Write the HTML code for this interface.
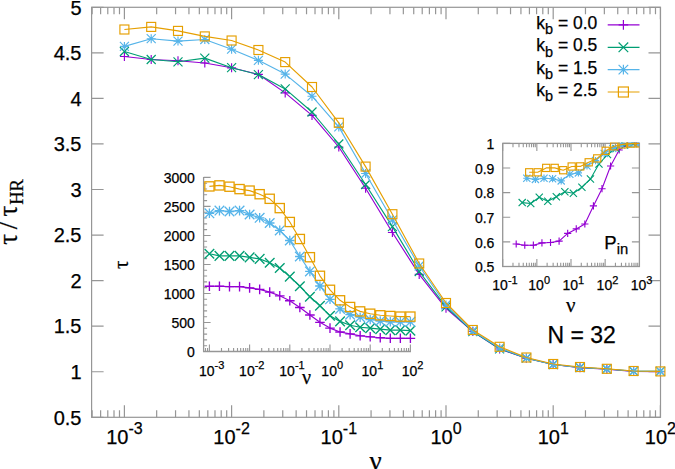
<!DOCTYPE html>
<html><head><meta charset="utf-8"><style>
html,body{margin:0;padding:0;background:#fff;overflow:hidden}
text{stroke:#000;stroke-width:0.25px}
svg{display:block}

</style></head><body>
<svg width="675" height="469" viewBox="0 0 675 469">
<rect width="675" height="469" fill="#fff"/>
<path d="M92.13 417.3v-7M92.13 7.3v7M100.62 417.3v-7M100.62 7.3v7M107.79 417.3v-7M107.79 7.3v7M114.01 417.3v-7M114.01 7.3v7M119.49 417.3v-7M119.49 7.3v7M124.4 417.3v-12M124.4 7.3v12M156.67 417.3v-7M156.67 7.3v7M175.55 417.3v-7M175.55 7.3v7M188.94 417.3v-7M188.94 7.3v7M199.33 417.3v-7M199.33 7.3v7M207.82 417.3v-7M207.82 7.3v7M214.99 417.3v-7M214.99 7.3v7M221.21 417.3v-7M221.21 7.3v7M226.69 417.3v-7M226.69 7.3v7M231.6 417.3v-12M231.6 7.3v12M263.87 417.3v-7M263.87 7.3v7M282.75 417.3v-7M282.75 7.3v7M296.14 417.3v-7M296.14 7.3v7M306.53 417.3v-7M306.53 7.3v7M315.02 417.3v-7M315.02 7.3v7M322.19 417.3v-7M322.19 7.3v7M328.41 417.3v-7M328.41 7.3v7M333.89 417.3v-7M333.89 7.3v7M338.8 417.3v-12M338.8 7.3v12M371.07 417.3v-7M371.07 7.3v7M389.95 417.3v-7M389.95 7.3v7M403.34 417.3v-7M403.34 7.3v7M413.73 417.3v-7M413.73 7.3v7M422.22 417.3v-7M422.22 7.3v7M429.39 417.3v-7M429.39 7.3v7M435.61 417.3v-7M435.61 7.3v7M441.09 417.3v-7M441.09 7.3v7M446 417.3v-12M446 7.3v12M478.27 417.3v-7M478.27 7.3v7M497.15 417.3v-7M497.15 7.3v7M510.54 417.3v-7M510.54 7.3v7M520.93 417.3v-7M520.93 7.3v7M529.42 417.3v-7M529.42 7.3v7M536.59 417.3v-7M536.59 7.3v7M542.81 417.3v-7M542.81 7.3v7M548.29 417.3v-7M548.29 7.3v7M553.2 417.3v-12M553.2 7.3v12M585.47 417.3v-7M585.47 7.3v7M604.35 417.3v-7M604.35 7.3v7M617.74 417.3v-7M617.74 7.3v7M628.13 417.3v-7M628.13 7.3v7M636.62 417.3v-7M636.62 7.3v7M643.79 417.3v-7M643.79 7.3v7M650.01 417.3v-7M650.01 7.3v7M655.49 417.3v-7M655.49 7.3v7M660.4 417.3v-12M660.4 7.3v12M91.6 417.3h12M660.5 417.3h-12M91.6 371.74h12M660.5 371.74h-12M91.6 326.19h12M660.5 326.19h-12M91.6 280.63h12M660.5 280.63h-12M91.6 235.08h12M660.5 235.08h-12M91.6 189.52h12M660.5 189.52h-12M91.6 143.97h12M660.5 143.97h-12M91.6 98.41h12M660.5 98.41h-12M91.6 52.86h12M660.5 52.86h-12M91.6 7.3h12M660.5 7.3h-12" stroke="#969696" stroke-width="1.2" fill="none"/>
<rect x="91.6" y="7.3" width="568.9" height="410" stroke="#969696" stroke-width="1.2" fill="none"/>
<g style="font-family:Liberation Sans,sans-serif" font-size="20" fill="#000" text-anchor="end">
<text x="81.5" y="424.5">0.5</text>
<text x="81.5" y="378.94">1</text>
<text x="81.5" y="333.39">1.5</text>
<text x="81.5" y="287.83">2</text>
<text x="81.5" y="242.28">2.5</text>
<text x="81.5" y="196.72">3</text>
<text x="81.5" y="151.17">3.5</text>
<text x="81.5" y="105.61">4</text>
<text x="81.5" y="60.06">4.5</text>
<text x="81.5" y="14.5">5</text>
</g>
<g style="font-family:Liberation Sans,sans-serif" font-size="20" fill="#000">
<text x="106.17" y="443.6">10<tspan font-size="16" dy="-9.6">-3</tspan></text>
<text x="213.37" y="443.6">10<tspan font-size="16" dy="-9.6">-2</tspan></text>
<text x="320.56" y="443.6">10<tspan font-size="16" dy="-9.6">-1</tspan></text>
<text x="430.43" y="443.6">10<tspan font-size="16" dy="-9.6">0</tspan></text>
<text x="537.63" y="443.6">10<tspan font-size="16" dy="-9.6">1</tspan></text>
<text x="644.83" y="443.6">10<tspan font-size="16" dy="-9.6">2</tspan></text>
</g>
<text x="375.5" y="469.7" style="font-family:Liberation Serif,serif" font-size="27" text-anchor="middle">ν</text>
<g transform="translate(16.5,0) rotate(-90)" style="font-family:Liberation Serif,serif" font-size="27"><text x="-244.8">τ</text><text x="-229.2">/</text><text x="-216.6">τ</text><text x="-204.8" y="6.5" font-size="18.5">HR</text></g>
<path d="M205.5 351.5v-3.5M207.56 351.5v-3.5M209.4 351.5v-7M221.5 351.5v-3.5M228.58 351.5v-3.5M233.6 351.5v-3.5M237.5 351.5v-3.5M240.68 351.5v-3.5M243.37 351.5v-3.5M245.7 351.5v-3.5M247.76 351.5v-3.5M249.6 351.5v-7M261.7 351.5v-3.5M268.78 351.5v-3.5M273.8 351.5v-3.5M277.7 351.5v-3.5M280.88 351.5v-3.5M283.57 351.5v-3.5M285.9 351.5v-3.5M287.96 351.5v-3.5M289.8 351.5v-7M301.9 351.5v-3.5M308.98 351.5v-3.5M314 351.5v-3.5M317.9 351.5v-3.5M321.08 351.5v-3.5M323.77 351.5v-3.5M326.1 351.5v-3.5M328.16 351.5v-3.5M330 351.5v-7M342.1 351.5v-3.5M349.18 351.5v-3.5M354.2 351.5v-3.5M358.1 351.5v-3.5M361.28 351.5v-3.5M363.97 351.5v-3.5M366.3 351.5v-3.5M368.36 351.5v-3.5M370.2 351.5v-7M382.3 351.5v-3.5M389.38 351.5v-3.5M394.4 351.5v-3.5M398.3 351.5v-3.5M401.48 351.5v-3.5M404.17 351.5v-3.5M406.5 351.5v-3.5M408.56 351.5v-3.5M410.4 351.5v-7M203.6 351.5h7M203.6 345.7h3.5M203.6 339.89h3.5M203.6 334.09h3.5M203.6 328.29h3.5M203.6 322.48h7M203.6 316.68h3.5M203.6 310.88h3.5M203.6 305.07h3.5M203.6 299.27h3.5M203.6 293.47h7M203.6 287.66h3.5M203.6 281.86h3.5M203.6 276.06h3.5M203.6 270.25h3.5M203.6 264.45h7M203.6 258.65h3.5M203.6 252.84h3.5M203.6 247.04h3.5M203.6 241.24h3.5M203.6 235.43h7M203.6 229.63h3.5M203.6 223.83h3.5M203.6 218.02h3.5M203.6 212.22h3.5M203.6 206.42h7M203.6 200.61h3.5M203.6 194.81h3.5M203.6 189.01h3.5M203.6 183.2h3.5M203.6 177.4h7" stroke="#969696" stroke-width="1.1" fill="none"/>
<path d="M203.6 176.9V351.5H411" stroke="#969696" stroke-width="1.3" fill="none"/>
<g style="font-family:Liberation Sans,sans-serif" font-size="14" fill="#000" text-anchor="end">
<text x="194.8" y="357">0</text>
<text x="194.8" y="327.98">500</text>
<text x="194.8" y="298.97">1000</text>
<text x="194.8" y="269.95">1500</text>
<text x="194.8" y="240.93">2000</text>
<text x="194.8" y="211.92">2500</text>
<text x="194.8" y="182.9">3000</text>
</g>
<g style="font-family:Liberation Sans,sans-serif" font-size="14" fill="#000">
<text x="198.92" y="375.9">10<tspan font-size="11" dy="-6.6">-3</tspan></text>
<text x="239.12" y="375.9">10<tspan font-size="11" dy="-6.6">-2</tspan></text>
<text x="279.32" y="375.9">10<tspan font-size="11" dy="-6.6">-1</tspan></text>
<text x="321.35" y="375.9">10<tspan font-size="11" dy="-6.6">0</tspan></text>
<text x="361.56" y="375.9">10<tspan font-size="11" dy="-6.6">1</tspan></text>
<text x="401.75" y="375.9">10<tspan font-size="11" dy="-6.6">2</tspan></text>
</g>
<text x="306.5" y="384.2" style="font-family:Liberation Serif,serif" font-size="20" text-anchor="middle">ν</text>
<text transform="translate(128.2,264.8) rotate(-90)" style="font-family:Liberation Serif,serif" font-size="21" text-anchor="middle">τ</text>
<path d="M209.4 286.2 L219.45 286.2 L229.5 286.6 L239.55 286.6 L249.6 287.9 L259.65 289.4 L269.7 292.1 L279.75 295.8 L289.8 300.7 L299.85 307.5 L309.9 315 L319.95 322.3 L330 328.1 L340.05 332 L350.1 333.9 L360.15 335.8 L370.2 336.8 L380.25 337.7 L390.3 338.3 L400.35 338.3 L410.4 338.3" stroke="#9400d3" stroke-width="1.15" fill="none" stroke-linejoin="round"/>
<path d="M204.6 286.2H214.2M209.4 281.4V291" stroke="#9400d3" stroke-width="1.35" fill="none"/>
<path d="M214.65 286.2H224.25M219.45 281.4V291" stroke="#9400d3" stroke-width="1.35" fill="none"/>
<path d="M224.7 286.6H234.3M229.5 281.8V291.4" stroke="#9400d3" stroke-width="1.35" fill="none"/>
<path d="M234.75 286.6H244.35M239.55 281.8V291.4" stroke="#9400d3" stroke-width="1.35" fill="none"/>
<path d="M244.8 287.9H254.4M249.6 283.1V292.7" stroke="#9400d3" stroke-width="1.35" fill="none"/>
<path d="M254.85 289.4H264.45M259.65 284.6V294.2" stroke="#9400d3" stroke-width="1.35" fill="none"/>
<path d="M264.9 292.1H274.5M269.7 287.3V296.9" stroke="#9400d3" stroke-width="1.35" fill="none"/>
<path d="M274.95 295.8H284.55M279.75 291V300.6" stroke="#9400d3" stroke-width="1.35" fill="none"/>
<path d="M285 300.7H294.6M289.8 295.9V305.5" stroke="#9400d3" stroke-width="1.35" fill="none"/>
<path d="M295.05 307.5H304.65M299.85 302.7V312.3" stroke="#9400d3" stroke-width="1.35" fill="none"/>
<path d="M305.1 315H314.7M309.9 310.2V319.8" stroke="#9400d3" stroke-width="1.35" fill="none"/>
<path d="M315.15 322.3H324.75M319.95 317.5V327.1" stroke="#9400d3" stroke-width="1.35" fill="none"/>
<path d="M325.2 328.1H334.8M330 323.3V332.9" stroke="#9400d3" stroke-width="1.35" fill="none"/>
<path d="M335.25 332H344.85M340.05 327.2V336.8" stroke="#9400d3" stroke-width="1.35" fill="none"/>
<path d="M345.3 333.9H354.9M350.1 329.1V338.7" stroke="#9400d3" stroke-width="1.35" fill="none"/>
<path d="M355.35 335.8H364.95M360.15 331V340.6" stroke="#9400d3" stroke-width="1.35" fill="none"/>
<path d="M365.4 336.8H375M370.2 332V341.6" stroke="#9400d3" stroke-width="1.35" fill="none"/>
<path d="M375.45 337.7H385.05M380.25 332.9V342.5" stroke="#9400d3" stroke-width="1.35" fill="none"/>
<path d="M385.5 338.3H395.1M390.3 333.5V343.1" stroke="#9400d3" stroke-width="1.35" fill="none"/>
<path d="M395.55 338.3H405.15M400.35 333.5V343.1" stroke="#9400d3" stroke-width="1.35" fill="none"/>
<path d="M405.6 338.3H415.2M410.4 333.5V343.1" stroke="#9400d3" stroke-width="1.35" fill="none"/>
<path d="M209.4 253.8 L219.45 255.9 L229.5 255.9 L239.55 255.9 L249.6 257.4 L259.65 258.9 L269.7 262.7 L279.75 268 L289.8 276.6 L299.85 286.2 L309.9 296.8 L319.95 305.8 L330 315.7 L340.05 321.4 L350.1 325.3 L360.15 327.2 L370.2 328.1 L380.25 329.1 L390.3 330.1 L400.35 330.1 L410.4 330.6" stroke="#009e73" stroke-width="1.15" fill="none" stroke-linejoin="round"/>
<path d="M204.6 249L214.2 258.6M204.6 258.6L214.2 249" stroke="#009e73" stroke-width="1.35" fill="none"/>
<path d="M214.65 251.1L224.25 260.7M214.65 260.7L224.25 251.1" stroke="#009e73" stroke-width="1.35" fill="none"/>
<path d="M224.7 251.1L234.3 260.7M224.7 260.7L234.3 251.1" stroke="#009e73" stroke-width="1.35" fill="none"/>
<path d="M234.75 251.1L244.35 260.7M234.75 260.7L244.35 251.1" stroke="#009e73" stroke-width="1.35" fill="none"/>
<path d="M244.8 252.6L254.4 262.2M244.8 262.2L254.4 252.6" stroke="#009e73" stroke-width="1.35" fill="none"/>
<path d="M254.85 254.1L264.45 263.7M254.85 263.7L264.45 254.1" stroke="#009e73" stroke-width="1.35" fill="none"/>
<path d="M264.9 257.9L274.5 267.5M264.9 267.5L274.5 257.9" stroke="#009e73" stroke-width="1.35" fill="none"/>
<path d="M274.95 263.2L284.55 272.8M274.95 272.8L284.55 263.2" stroke="#009e73" stroke-width="1.35" fill="none"/>
<path d="M285 271.8L294.6 281.4M285 281.4L294.6 271.8" stroke="#009e73" stroke-width="1.35" fill="none"/>
<path d="M295.05 281.4L304.65 291M295.05 291L304.65 281.4" stroke="#009e73" stroke-width="1.35" fill="none"/>
<path d="M305.1 292L314.7 301.6M305.1 301.6L314.7 292" stroke="#009e73" stroke-width="1.35" fill="none"/>
<path d="M315.15 301L324.75 310.6M315.15 310.6L324.75 301" stroke="#009e73" stroke-width="1.35" fill="none"/>
<path d="M325.2 310.9L334.8 320.5M325.2 320.5L334.8 310.9" stroke="#009e73" stroke-width="1.35" fill="none"/>
<path d="M335.25 316.6L344.85 326.2M335.25 326.2L344.85 316.6" stroke="#009e73" stroke-width="1.35" fill="none"/>
<path d="M345.3 320.5L354.9 330.1M345.3 330.1L354.9 320.5" stroke="#009e73" stroke-width="1.35" fill="none"/>
<path d="M355.35 322.4L364.95 332M355.35 332L364.95 322.4" stroke="#009e73" stroke-width="1.35" fill="none"/>
<path d="M365.4 323.3L375 332.9M365.4 332.9L375 323.3" stroke="#009e73" stroke-width="1.35" fill="none"/>
<path d="M375.45 324.3L385.05 333.9M375.45 333.9L385.05 324.3" stroke="#009e73" stroke-width="1.35" fill="none"/>
<path d="M385.5 325.3L395.1 334.9M385.5 334.9L395.1 325.3" stroke="#009e73" stroke-width="1.35" fill="none"/>
<path d="M395.55 325.3L405.15 334.9M395.55 334.9L405.15 325.3" stroke="#009e73" stroke-width="1.35" fill="none"/>
<path d="M405.6 325.8L415.2 335.4M405.6 335.4L415.2 325.8" stroke="#009e73" stroke-width="1.35" fill="none"/>
<path d="M209.4 213.3 L219.45 210.6 L229.5 211.5 L239.55 210.6 L249.6 214.5 L259.65 217.8 L269.7 223 L279.75 230.4 L289.8 240.5 L299.85 256.5 L309.9 271.4 L319.95 286 L330 299.3 L340.05 308.9 L350.1 314.7 L360.15 317.2 L370.2 319.5 L380.25 321 L390.3 321.8 L400.35 321.8 L410.4 321.8" stroke="#56b4e9" stroke-width="1.15" fill="none" stroke-linejoin="round"/>
<path d="M204.6 213.3H214.2M209.4 208.5V218.1M204.6 208.5L214.2 218.1M204.6 218.1L214.2 208.5" stroke="#56b4e9" stroke-width="1.3" fill="none"/>
<path d="M214.65 210.6H224.25M219.45 205.8V215.4M214.65 205.8L224.25 215.4M214.65 215.4L224.25 205.8" stroke="#56b4e9" stroke-width="1.3" fill="none"/>
<path d="M224.7 211.5H234.3M229.5 206.7V216.3M224.7 206.7L234.3 216.3M224.7 216.3L234.3 206.7" stroke="#56b4e9" stroke-width="1.3" fill="none"/>
<path d="M234.75 210.6H244.35M239.55 205.8V215.4M234.75 205.8L244.35 215.4M234.75 215.4L244.35 205.8" stroke="#56b4e9" stroke-width="1.3" fill="none"/>
<path d="M244.8 214.5H254.4M249.6 209.7V219.3M244.8 209.7L254.4 219.3M244.8 219.3L254.4 209.7" stroke="#56b4e9" stroke-width="1.3" fill="none"/>
<path d="M254.85 217.8H264.45M259.65 213V222.6M254.85 213L264.45 222.6M254.85 222.6L264.45 213" stroke="#56b4e9" stroke-width="1.3" fill="none"/>
<path d="M264.9 223H274.5M269.7 218.2V227.8M264.9 218.2L274.5 227.8M264.9 227.8L274.5 218.2" stroke="#56b4e9" stroke-width="1.3" fill="none"/>
<path d="M274.95 230.4H284.55M279.75 225.6V235.2M274.95 225.6L284.55 235.2M274.95 235.2L284.55 225.6" stroke="#56b4e9" stroke-width="1.3" fill="none"/>
<path d="M285 240.5H294.6M289.8 235.7V245.3M285 235.7L294.6 245.3M285 245.3L294.6 235.7" stroke="#56b4e9" stroke-width="1.3" fill="none"/>
<path d="M295.05 256.5H304.65M299.85 251.7V261.3M295.05 251.7L304.65 261.3M295.05 261.3L304.65 251.7" stroke="#56b4e9" stroke-width="1.3" fill="none"/>
<path d="M305.1 271.4H314.7M309.9 266.6V276.2M305.1 266.6L314.7 276.2M305.1 276.2L314.7 266.6" stroke="#56b4e9" stroke-width="1.3" fill="none"/>
<path d="M315.15 286H324.75M319.95 281.2V290.8M315.15 281.2L324.75 290.8M315.15 290.8L324.75 281.2" stroke="#56b4e9" stroke-width="1.3" fill="none"/>
<path d="M325.2 299.3H334.8M330 294.5V304.1M325.2 294.5L334.8 304.1M325.2 304.1L334.8 294.5" stroke="#56b4e9" stroke-width="1.3" fill="none"/>
<path d="M335.25 308.9H344.85M340.05 304.1V313.7M335.25 304.1L344.85 313.7M335.25 313.7L344.85 304.1" stroke="#56b4e9" stroke-width="1.3" fill="none"/>
<path d="M345.3 314.7H354.9M350.1 309.9V319.5M345.3 309.9L354.9 319.5M345.3 319.5L354.9 309.9" stroke="#56b4e9" stroke-width="1.3" fill="none"/>
<path d="M355.35 317.2H364.95M360.15 312.4V322M355.35 312.4L364.95 322M355.35 322L364.95 312.4" stroke="#56b4e9" stroke-width="1.3" fill="none"/>
<path d="M365.4 319.5H375M370.2 314.7V324.3M365.4 314.7L375 324.3M365.4 324.3L375 314.7" stroke="#56b4e9" stroke-width="1.3" fill="none"/>
<path d="M375.45 321H385.05M380.25 316.2V325.8M375.45 316.2L385.05 325.8M375.45 325.8L385.05 316.2" stroke="#56b4e9" stroke-width="1.3" fill="none"/>
<path d="M385.5 321.8H395.1M390.3 317V326.6M385.5 317L395.1 326.6M385.5 326.6L395.1 317" stroke="#56b4e9" stroke-width="1.3" fill="none"/>
<path d="M395.55 321.8H405.15M400.35 317V326.6M395.55 317L405.15 326.6M395.55 326.6L405.15 317" stroke="#56b4e9" stroke-width="1.3" fill="none"/>
<path d="M405.6 321.8H415.2M410.4 317V326.6M405.6 317L415.2 326.6M405.6 326.6L415.2 317" stroke="#56b4e9" stroke-width="1.3" fill="none"/>
<path d="M209.4 186.4 L219.45 185.4 L229.5 186.7 L239.55 189.1 L249.6 190.6 L259.65 194.2 L269.7 198.8 L279.75 208.1 L289.8 222 L299.85 239 L309.9 257.2 L319.95 275.8 L330 289.8 L340.05 300.3 L350.1 307 L360.15 311.4 L370.2 313.7 L380.25 315.3 L390.3 316 L400.35 316.6 L410.4 316.6" stroke="#e69f00" stroke-width="1.15" fill="none" stroke-linejoin="round"/>
<rect x="204.8" y="181.8" width="9.2" height="9.2" stroke="#e69f00" stroke-width="1.3" fill="none"/>
<rect x="214.85" y="180.8" width="9.2" height="9.2" stroke="#e69f00" stroke-width="1.3" fill="none"/>
<rect x="224.9" y="182.1" width="9.2" height="9.2" stroke="#e69f00" stroke-width="1.3" fill="none"/>
<rect x="234.95" y="184.5" width="9.2" height="9.2" stroke="#e69f00" stroke-width="1.3" fill="none"/>
<rect x="245" y="186" width="9.2" height="9.2" stroke="#e69f00" stroke-width="1.3" fill="none"/>
<rect x="255.05" y="189.6" width="9.2" height="9.2" stroke="#e69f00" stroke-width="1.3" fill="none"/>
<rect x="265.1" y="194.2" width="9.2" height="9.2" stroke="#e69f00" stroke-width="1.3" fill="none"/>
<rect x="275.15" y="203.5" width="9.2" height="9.2" stroke="#e69f00" stroke-width="1.3" fill="none"/>
<rect x="285.2" y="217.4" width="9.2" height="9.2" stroke="#e69f00" stroke-width="1.3" fill="none"/>
<rect x="295.25" y="234.4" width="9.2" height="9.2" stroke="#e69f00" stroke-width="1.3" fill="none"/>
<rect x="305.3" y="252.6" width="9.2" height="9.2" stroke="#e69f00" stroke-width="1.3" fill="none"/>
<rect x="315.35" y="271.2" width="9.2" height="9.2" stroke="#e69f00" stroke-width="1.3" fill="none"/>
<rect x="325.4" y="285.2" width="9.2" height="9.2" stroke="#e69f00" stroke-width="1.3" fill="none"/>
<rect x="335.45" y="295.7" width="9.2" height="9.2" stroke="#e69f00" stroke-width="1.3" fill="none"/>
<rect x="345.5" y="302.4" width="9.2" height="9.2" stroke="#e69f00" stroke-width="1.3" fill="none"/>
<rect x="355.55" y="306.8" width="9.2" height="9.2" stroke="#e69f00" stroke-width="1.3" fill="none"/>
<rect x="365.6" y="309.1" width="9.2" height="9.2" stroke="#e69f00" stroke-width="1.3" fill="none"/>
<rect x="375.65" y="310.7" width="9.2" height="9.2" stroke="#e69f00" stroke-width="1.3" fill="none"/>
<rect x="385.7" y="311.4" width="9.2" height="9.2" stroke="#e69f00" stroke-width="1.3" fill="none"/>
<rect x="395.75" y="312" width="9.2" height="9.2" stroke="#e69f00" stroke-width="1.3" fill="none"/>
<rect x="405.8" y="312" width="9.2" height="9.2" stroke="#e69f00" stroke-width="1.3" fill="none"/>
<rect x="502.7" y="143.4" width="136.7" height="123.1" fill="#fff" stroke="none"/>
<path d="M502.7 266.5v-7.5M502.7 143.4v7.5M512.98 266.5v-3.8M512.98 143.4v3.8M518.99 266.5v-3.8M518.99 143.4v3.8M523.26 266.5v-3.8M523.26 143.4v3.8M526.57 266.5v-3.8M526.57 143.4v3.8M529.27 266.5v-3.8M529.27 143.4v3.8M531.56 266.5v-3.8M531.56 143.4v3.8M533.54 266.5v-3.8M533.54 143.4v3.8M535.29 266.5v-3.8M535.29 143.4v3.8M536.85 266.5v-7.5M536.85 143.4v7.5M547.13 266.5v-3.8M547.13 143.4v3.8M553.14 266.5v-3.8M553.14 143.4v3.8M557.41 266.5v-3.8M557.41 143.4v3.8M560.72 266.5v-3.8M560.72 143.4v3.8M563.42 266.5v-3.8M563.42 143.4v3.8M565.71 266.5v-3.8M565.71 143.4v3.8M567.69 266.5v-3.8M567.69 143.4v3.8M569.44 266.5v-3.8M569.44 143.4v3.8M571 266.5v-7.5M571 143.4v7.5M581.28 266.5v-3.8M581.28 143.4v3.8M587.29 266.5v-3.8M587.29 143.4v3.8M591.56 266.5v-3.8M591.56 143.4v3.8M594.87 266.5v-3.8M594.87 143.4v3.8M597.57 266.5v-3.8M597.57 143.4v3.8M599.86 266.5v-3.8M599.86 143.4v3.8M601.84 266.5v-3.8M601.84 143.4v3.8M603.59 266.5v-3.8M603.59 143.4v3.8M605.15 266.5v-7.5M605.15 143.4v7.5M615.43 266.5v-3.8M615.43 143.4v3.8M621.44 266.5v-3.8M621.44 143.4v3.8M625.71 266.5v-3.8M625.71 143.4v3.8M629.02 266.5v-3.8M629.02 143.4v3.8M631.72 266.5v-3.8M631.72 143.4v3.8M634.01 266.5v-3.8M634.01 143.4v3.8M635.99 266.5v-3.8M635.99 143.4v3.8M637.74 266.5v-3.8M637.74 143.4v3.8M502.7 266.5h7.5M639.4 266.5h-7.5M502.7 241.88h7.5M639.4 241.88h-7.5M502.7 217.26h7.5M639.4 217.26h-7.5M502.7 192.64h7.5M639.4 192.64h-7.5M502.7 168.02h7.5M639.4 168.02h-7.5M502.7 143.4h7.5M639.4 143.4h-7.5" stroke="#969696" stroke-width="1.1" fill="none"/>
<rect x="502.7" y="143.4" width="136.7" height="123.1" stroke="#969696" stroke-width="1.3" fill="none"/>
<g style="font-family:Liberation Sans,sans-serif" font-size="14" fill="#000" text-anchor="end">
<text x="494.4" y="272.2">0.5</text>
<text x="494.4" y="247.58">0.6</text>
<text x="494.4" y="222.96">0.7</text>
<text x="494.4" y="198.34">0.8</text>
<text x="494.4" y="173.72">0.9</text>
<text x="494.4" y="149.1">1</text>
</g>
<g style="font-family:Liberation Sans,sans-serif" font-size="14" fill="#000">
<text x="492.32" y="290.3">10<tspan font-size="11" dy="-6.6">-1</tspan></text>
<text x="528.3" y="290.3">10<tspan font-size="11" dy="-6.6">0</tspan></text>
<text x="562.45" y="290.3">10<tspan font-size="11" dy="-6.6">1</tspan></text>
<text x="596.6" y="290.3">10<tspan font-size="11" dy="-6.6">2</tspan></text>
<text x="630.75" y="290.3">10<tspan font-size="11" dy="-6.6">3</tspan></text>
</g>
<text x="570.7" y="311.8" style="font-family:Liberation Serif,serif" font-size="21" text-anchor="middle">ν</text>
<text x="604.3" y="248.5" style="font-family:Liberation Sans,sans-serif" font-size="18.5">P<tspan font-size="14.8" dy="5.8">in</tspan></text>
<svg x="0" y="0" width="675" height="469" overflow="hidden"><defs><clipPath id="rc"><rect x="502" y="142.4" width="137.4" height="125"/></clipPath></defs><g clip-path="url(#rc)">
<path d="M516.2 244 L524.78 245.2 L533.36 245.2 L541.94 242.9 L550.52 242.5 L559.1 241.1 L567.68 233.4 L576.26 228.9 L584.84 224 L593.42 205.9 L602 188.7 L610.58 166 L619.16 150 L627.74 144.2 L636.32 143.4" stroke="#9400d3" stroke-width="1.1" fill="none" stroke-linejoin="round"/>
<path d="M512.6 244H519.8M516.2 240.4V247.6" stroke="#9400d3" stroke-width="1.15" fill="none"/>
<path d="M521.18 245.2H528.38M524.78 241.6V248.8" stroke="#9400d3" stroke-width="1.15" fill="none"/>
<path d="M529.76 245.2H536.96M533.36 241.6V248.8" stroke="#9400d3" stroke-width="1.15" fill="none"/>
<path d="M538.34 242.9H545.54M541.94 239.3V246.5" stroke="#9400d3" stroke-width="1.15" fill="none"/>
<path d="M546.92 242.5H554.12M550.52 238.9V246.1" stroke="#9400d3" stroke-width="1.15" fill="none"/>
<path d="M555.5 241.1H562.7M559.1 237.5V244.7" stroke="#9400d3" stroke-width="1.15" fill="none"/>
<path d="M564.08 233.4H571.28M567.68 229.8V237" stroke="#9400d3" stroke-width="1.15" fill="none"/>
<path d="M572.66 228.9H579.86M576.26 225.3V232.5" stroke="#9400d3" stroke-width="1.15" fill="none"/>
<path d="M581.24 224H588.44M584.84 220.4V227.6" stroke="#9400d3" stroke-width="1.15" fill="none"/>
<path d="M589.82 205.9H597.02M593.42 202.3V209.5" stroke="#9400d3" stroke-width="1.15" fill="none"/>
<path d="M598.4 188.7H605.6M602 185.1V192.3" stroke="#9400d3" stroke-width="1.15" fill="none"/>
<path d="M606.98 166H614.18M610.58 162.4V169.6" stroke="#9400d3" stroke-width="1.15" fill="none"/>
<path d="M615.56 150H622.76M619.16 146.4V153.6" stroke="#9400d3" stroke-width="1.15" fill="none"/>
<path d="M624.14 144.2H631.34M627.74 140.6V147.8" stroke="#9400d3" stroke-width="1.15" fill="none"/>
<path d="M632.72 143.4H639.92M636.32 139.8V147" stroke="#9400d3" stroke-width="1.15" fill="none"/>
<path d="M522.2 202.6 L530.73 203.5 L539.26 197.2 L547.79 201.2 L556.32 196.8 L564.85 191.8 L573.38 193.2 L581.91 187.2 L590.44 179 L598.97 164 L607.5 154.5 L616.03 148.6 L624.56 145 L633.09 143.6" stroke="#009e73" stroke-width="1.1" fill="none" stroke-linejoin="round"/>
<path d="M518.6 199L525.8 206.2M518.6 206.2L525.8 199" stroke="#009e73" stroke-width="1.15" fill="none"/>
<path d="M527.13 199.9L534.33 207.1M527.13 207.1L534.33 199.9" stroke="#009e73" stroke-width="1.15" fill="none"/>
<path d="M535.66 193.6L542.86 200.8M535.66 200.8L542.86 193.6" stroke="#009e73" stroke-width="1.15" fill="none"/>
<path d="M544.19 197.6L551.39 204.8M544.19 204.8L551.39 197.6" stroke="#009e73" stroke-width="1.15" fill="none"/>
<path d="M552.72 193.2L559.92 200.4M552.72 200.4L559.92 193.2" stroke="#009e73" stroke-width="1.15" fill="none"/>
<path d="M561.25 188.2L568.45 195.4M561.25 195.4L568.45 188.2" stroke="#009e73" stroke-width="1.15" fill="none"/>
<path d="M569.78 189.6L576.98 196.8M569.78 196.8L576.98 189.6" stroke="#009e73" stroke-width="1.15" fill="none"/>
<path d="M578.31 183.6L585.51 190.8M578.31 190.8L585.51 183.6" stroke="#009e73" stroke-width="1.15" fill="none"/>
<path d="M586.84 175.4L594.04 182.6M586.84 182.6L594.04 175.4" stroke="#009e73" stroke-width="1.15" fill="none"/>
<path d="M595.37 160.4L602.57 167.6M595.37 167.6L602.57 160.4" stroke="#009e73" stroke-width="1.15" fill="none"/>
<path d="M603.9 150.9L611.1 158.1M603.9 158.1L611.1 150.9" stroke="#009e73" stroke-width="1.15" fill="none"/>
<path d="M612.43 145L619.63 152.2M612.43 152.2L619.63 145" stroke="#009e73" stroke-width="1.15" fill="none"/>
<path d="M620.96 141.4L628.16 148.6M620.96 148.6L628.16 141.4" stroke="#009e73" stroke-width="1.15" fill="none"/>
<path d="M629.49 140L636.69 147.2M629.49 147.2L636.69 140" stroke="#009e73" stroke-width="1.15" fill="none"/>
<path d="M526.8 178.2 L535.4 179.4 L544 178.2 L552.6 178.7 L561.2 180.9 L569.8 174.2 L578.4 172.9 L587 166 L595.6 160.6 L604.2 153.4 L612.8 148.6 L621.4 145 L630 143.6 L638.6 143.4" stroke="#56b4e9" stroke-width="1.1" fill="none" stroke-linejoin="round"/>
<path d="M523.2 178.2H530.4M526.8 174.6V181.8M523.2 174.6L530.4 181.8M523.2 181.8L530.4 174.6" stroke="#56b4e9" stroke-width="1.15" fill="none"/>
<path d="M531.8 179.4H539M535.4 175.8V183M531.8 175.8L539 183M531.8 183L539 175.8" stroke="#56b4e9" stroke-width="1.15" fill="none"/>
<path d="M540.4 178.2H547.6M544 174.6V181.8M540.4 174.6L547.6 181.8M540.4 181.8L547.6 174.6" stroke="#56b4e9" stroke-width="1.15" fill="none"/>
<path d="M549 178.7H556.2M552.6 175.1V182.3M549 175.1L556.2 182.3M549 182.3L556.2 175.1" stroke="#56b4e9" stroke-width="1.15" fill="none"/>
<path d="M557.6 180.9H564.8M561.2 177.3V184.5M557.6 177.3L564.8 184.5M557.6 184.5L564.8 177.3" stroke="#56b4e9" stroke-width="1.15" fill="none"/>
<path d="M566.2 174.2H573.4M569.8 170.6V177.8M566.2 170.6L573.4 177.8M566.2 177.8L573.4 170.6" stroke="#56b4e9" stroke-width="1.15" fill="none"/>
<path d="M574.8 172.9H582M578.4 169.3V176.5M574.8 169.3L582 176.5M574.8 176.5L582 169.3" stroke="#56b4e9" stroke-width="1.15" fill="none"/>
<path d="M583.4 166H590.6M587 162.4V169.6M583.4 162.4L590.6 169.6M583.4 169.6L590.6 162.4" stroke="#56b4e9" stroke-width="1.15" fill="none"/>
<path d="M592 160.6H599.2M595.6 157V164.2M592 157L599.2 164.2M592 164.2L599.2 157" stroke="#56b4e9" stroke-width="1.15" fill="none"/>
<path d="M600.6 153.4H607.8M604.2 149.8V157M600.6 149.8L607.8 157M600.6 157L607.8 149.8" stroke="#56b4e9" stroke-width="1.15" fill="none"/>
<path d="M609.2 148.6H616.4M612.8 145V152.2M609.2 145L616.4 152.2M609.2 152.2L616.4 145" stroke="#56b4e9" stroke-width="1.15" fill="none"/>
<path d="M617.8 145H625M621.4 141.4V148.6M617.8 141.4L625 148.6M617.8 148.6L625 141.4" stroke="#56b4e9" stroke-width="1.15" fill="none"/>
<path d="M626.4 143.6H633.6M630 140V147.2M626.4 140L633.6 147.2M626.4 147.2L633.6 140" stroke="#56b4e9" stroke-width="1.15" fill="none"/>
<path d="M635 143.4H642.2M638.6 139.8V147M635 139.8L642.2 147M635 147L642.2 139.8" stroke="#56b4e9" stroke-width="1.15" fill="none"/>
<path d="M529.2 172.3 L537.7 172.3 L546.2 167.9 L554.7 167.9 L563.2 170.2 L571.7 166.5 L580.2 166.4 L588.7 162.3 L597.2 158.4 L605.7 150.8 L614.2 146.3 L622.7 144.4 L631.2 143.6 L639.7 143.4" stroke="#e69f00" stroke-width="1.1" fill="none" stroke-linejoin="round"/>
<rect x="525.6" y="168.7" width="7.2" height="7.2" stroke="#e69f00" stroke-width="1.15" fill="none"/>
<rect x="534.1" y="168.7" width="7.2" height="7.2" stroke="#e69f00" stroke-width="1.15" fill="none"/>
<rect x="542.6" y="164.3" width="7.2" height="7.2" stroke="#e69f00" stroke-width="1.15" fill="none"/>
<rect x="551.1" y="164.3" width="7.2" height="7.2" stroke="#e69f00" stroke-width="1.15" fill="none"/>
<rect x="559.6" y="166.6" width="7.2" height="7.2" stroke="#e69f00" stroke-width="1.15" fill="none"/>
<rect x="568.1" y="162.9" width="7.2" height="7.2" stroke="#e69f00" stroke-width="1.15" fill="none"/>
<rect x="576.6" y="162.8" width="7.2" height="7.2" stroke="#e69f00" stroke-width="1.15" fill="none"/>
<rect x="585.1" y="158.7" width="7.2" height="7.2" stroke="#e69f00" stroke-width="1.15" fill="none"/>
<rect x="593.6" y="154.8" width="7.2" height="7.2" stroke="#e69f00" stroke-width="1.15" fill="none"/>
<rect x="602.1" y="147.2" width="7.2" height="7.2" stroke="#e69f00" stroke-width="1.15" fill="none"/>
<rect x="610.6" y="142.7" width="7.2" height="7.2" stroke="#e69f00" stroke-width="1.15" fill="none"/>
<rect x="619.1" y="140.8" width="7.2" height="7.2" stroke="#e69f00" stroke-width="1.15" fill="none"/>
<rect x="627.6" y="140" width="7.2" height="7.2" stroke="#e69f00" stroke-width="1.15" fill="none"/>
<rect x="636.1" y="139.8" width="7.2" height="7.2" stroke="#e69f00" stroke-width="1.15" fill="none"/>
</g></svg>
<path d="M124.4 56.5 L151.2 59.5 L178 60.8 L204.8 63 L231.6 67.8 L258.4 74.3 L285.2 92.9 L312 115.4 L338.8 147 L365.6 188.2 L392.4 232.5 L419.2 274.4 L446 308.3 L472.8 331.5 L499.6 349 L526.4 358.3 L553.2 364.5 L580 367.8 L606.8 369.3 L633.6 371.5 L660.4 371.6" stroke="#9400d3" stroke-width="1.15" fill="none" stroke-linejoin="round"/>
<path d="M119.9 56.5H128.9M124.4 52V61" stroke="#9400d3" stroke-width="1.15" fill="none"/>
<path d="M146.7 59.5H155.7M151.2 55V64" stroke="#9400d3" stroke-width="1.15" fill="none"/>
<path d="M173.5 60.8H182.5M178 56.3V65.3" stroke="#9400d3" stroke-width="1.15" fill="none"/>
<path d="M200.3 63H209.3M204.8 58.5V67.5" stroke="#9400d3" stroke-width="1.15" fill="none"/>
<path d="M227.1 67.8H236.1M231.6 63.3V72.3" stroke="#9400d3" stroke-width="1.15" fill="none"/>
<path d="M253.9 74.3H262.9M258.4 69.8V78.8" stroke="#9400d3" stroke-width="1.15" fill="none"/>
<path d="M280.7 92.9H289.7M285.2 88.4V97.4" stroke="#9400d3" stroke-width="1.15" fill="none"/>
<path d="M307.5 115.4H316.5M312 110.9V119.9" stroke="#9400d3" stroke-width="1.15" fill="none"/>
<path d="M334.3 147H343.3M338.8 142.5V151.5" stroke="#9400d3" stroke-width="1.15" fill="none"/>
<path d="M361.1 188.2H370.1M365.6 183.7V192.7" stroke="#9400d3" stroke-width="1.15" fill="none"/>
<path d="M387.9 232.5H396.9M392.4 228V237" stroke="#9400d3" stroke-width="1.15" fill="none"/>
<path d="M414.7 274.4H423.7M419.2 269.9V278.9" stroke="#9400d3" stroke-width="1.15" fill="none"/>
<path d="M441.5 308.3H450.5M446 303.8V312.8" stroke="#9400d3" stroke-width="1.15" fill="none"/>
<path d="M468.3 331.5H477.3M472.8 327V336" stroke="#9400d3" stroke-width="1.15" fill="none"/>
<path d="M495.1 349H504.1M499.6 344.5V353.5" stroke="#9400d3" stroke-width="1.15" fill="none"/>
<path d="M521.9 358.3H530.9M526.4 353.8V362.8" stroke="#9400d3" stroke-width="1.15" fill="none"/>
<path d="M548.7 364.5H557.7M553.2 360V369" stroke="#9400d3" stroke-width="1.15" fill="none"/>
<path d="M575.5 367.8H584.5M580 363.3V372.3" stroke="#9400d3" stroke-width="1.15" fill="none"/>
<path d="M602.3 369.3H611.3M606.8 364.8V373.8" stroke="#9400d3" stroke-width="1.15" fill="none"/>
<path d="M629.1 371.5H638.1M633.6 367V376" stroke="#9400d3" stroke-width="1.15" fill="none"/>
<path d="M655.9 371.6H664.9M660.4 367.1V376.1" stroke="#9400d3" stroke-width="1.15" fill="none"/>
<path d="M124.4 51.5 L151.2 59.5 L178 61.8 L204.8 58.1 L231.6 67.7 L258.4 74.6 L285.2 88.9 L312 112 L338.8 144 L365.6 184.5 L392.4 226.6 L419.2 271.5 L446 306.8 L472.8 331.5 L499.6 348.8 L526.4 358.2 L553.2 364.5 L580 367.5 L606.8 369 L633.6 371.3 L660.4 371.4" stroke="#009e73" stroke-width="1.15" fill="none" stroke-linejoin="round"/>
<path d="M119.9 47L128.9 56M119.9 56L128.9 47" stroke="#009e73" stroke-width="1.15" fill="none"/>
<path d="M146.7 55L155.7 64M146.7 64L155.7 55" stroke="#009e73" stroke-width="1.15" fill="none"/>
<path d="M173.5 57.3L182.5 66.3M173.5 66.3L182.5 57.3" stroke="#009e73" stroke-width="1.15" fill="none"/>
<path d="M200.3 53.6L209.3 62.6M200.3 62.6L209.3 53.6" stroke="#009e73" stroke-width="1.15" fill="none"/>
<path d="M227.1 63.2L236.1 72.2M227.1 72.2L236.1 63.2" stroke="#009e73" stroke-width="1.15" fill="none"/>
<path d="M253.9 70.1L262.9 79.1M253.9 79.1L262.9 70.1" stroke="#009e73" stroke-width="1.15" fill="none"/>
<path d="M280.7 84.4L289.7 93.4M280.7 93.4L289.7 84.4" stroke="#009e73" stroke-width="1.15" fill="none"/>
<path d="M307.5 107.5L316.5 116.5M307.5 116.5L316.5 107.5" stroke="#009e73" stroke-width="1.15" fill="none"/>
<path d="M334.3 139.5L343.3 148.5M334.3 148.5L343.3 139.5" stroke="#009e73" stroke-width="1.15" fill="none"/>
<path d="M361.1 180L370.1 189M361.1 189L370.1 180" stroke="#009e73" stroke-width="1.15" fill="none"/>
<path d="M387.9 222.1L396.9 231.1M387.9 231.1L396.9 222.1" stroke="#009e73" stroke-width="1.15" fill="none"/>
<path d="M414.7 267L423.7 276M414.7 276L423.7 267" stroke="#009e73" stroke-width="1.15" fill="none"/>
<path d="M441.5 302.3L450.5 311.3M441.5 311.3L450.5 302.3" stroke="#009e73" stroke-width="1.15" fill="none"/>
<path d="M468.3 327L477.3 336M468.3 336L477.3 327" stroke="#009e73" stroke-width="1.15" fill="none"/>
<path d="M495.1 344.3L504.1 353.3M495.1 353.3L504.1 344.3" stroke="#009e73" stroke-width="1.15" fill="none"/>
<path d="M521.9 353.7L530.9 362.7M521.9 362.7L530.9 353.7" stroke="#009e73" stroke-width="1.15" fill="none"/>
<path d="M548.7 360L557.7 369M548.7 369L557.7 360" stroke="#009e73" stroke-width="1.15" fill="none"/>
<path d="M575.5 363L584.5 372M575.5 372L584.5 363" stroke="#009e73" stroke-width="1.15" fill="none"/>
<path d="M602.3 364.5L611.3 373.5M602.3 373.5L611.3 364.5" stroke="#009e73" stroke-width="1.15" fill="none"/>
<path d="M629.1 366.8L638.1 375.8M629.1 375.8L638.1 366.8" stroke="#009e73" stroke-width="1.15" fill="none"/>
<path d="M655.9 366.9L664.9 375.9M655.9 375.9L664.9 366.9" stroke="#009e73" stroke-width="1.15" fill="none"/>
<path d="M124.4 46.4 L151.2 38.7 L178 41.1 L204.8 39.5 L231.6 49.2 L258.4 60.3 L285.2 74.1 L312 96.2 L338.8 126.9 L365.6 173.5 L392.4 220 L419.2 266 L446 305 L472.8 331 L499.6 348 L526.4 358 L553.2 364.5 L580 367.5 L606.8 369 L633.6 371 L660.4 371.4" stroke="#56b4e9" stroke-width="1.15" fill="none" stroke-linejoin="round"/>
<path d="M119.9 46.4H128.9M124.4 41.9V50.9M119.9 41.9L128.9 50.9M119.9 50.9L128.9 41.9" stroke="#56b4e9" stroke-width="1.15" fill="none"/>
<path d="M146.7 38.7H155.7M151.2 34.2V43.2M146.7 34.2L155.7 43.2M146.7 43.2L155.7 34.2" stroke="#56b4e9" stroke-width="1.15" fill="none"/>
<path d="M173.5 41.1H182.5M178 36.6V45.6M173.5 36.6L182.5 45.6M173.5 45.6L182.5 36.6" stroke="#56b4e9" stroke-width="1.15" fill="none"/>
<path d="M200.3 39.5H209.3M204.8 35V44M200.3 35L209.3 44M200.3 44L209.3 35" stroke="#56b4e9" stroke-width="1.15" fill="none"/>
<path d="M227.1 49.2H236.1M231.6 44.7V53.7M227.1 44.7L236.1 53.7M227.1 53.7L236.1 44.7" stroke="#56b4e9" stroke-width="1.15" fill="none"/>
<path d="M253.9 60.3H262.9M258.4 55.8V64.8M253.9 55.8L262.9 64.8M253.9 64.8L262.9 55.8" stroke="#56b4e9" stroke-width="1.15" fill="none"/>
<path d="M280.7 74.1H289.7M285.2 69.6V78.6M280.7 69.6L289.7 78.6M280.7 78.6L289.7 69.6" stroke="#56b4e9" stroke-width="1.15" fill="none"/>
<path d="M307.5 96.2H316.5M312 91.7V100.7M307.5 91.7L316.5 100.7M307.5 100.7L316.5 91.7" stroke="#56b4e9" stroke-width="1.15" fill="none"/>
<path d="M334.3 126.9H343.3M338.8 122.4V131.4M334.3 122.4L343.3 131.4M334.3 131.4L343.3 122.4" stroke="#56b4e9" stroke-width="1.15" fill="none"/>
<path d="M361.1 173.5H370.1M365.6 169V178M361.1 169L370.1 178M361.1 178L370.1 169" stroke="#56b4e9" stroke-width="1.15" fill="none"/>
<path d="M387.9 220H396.9M392.4 215.5V224.5M387.9 215.5L396.9 224.5M387.9 224.5L396.9 215.5" stroke="#56b4e9" stroke-width="1.15" fill="none"/>
<path d="M414.7 266H423.7M419.2 261.5V270.5M414.7 261.5L423.7 270.5M414.7 270.5L423.7 261.5" stroke="#56b4e9" stroke-width="1.15" fill="none"/>
<path d="M441.5 305H450.5M446 300.5V309.5M441.5 300.5L450.5 309.5M441.5 309.5L450.5 300.5" stroke="#56b4e9" stroke-width="1.15" fill="none"/>
<path d="M468.3 331H477.3M472.8 326.5V335.5M468.3 326.5L477.3 335.5M468.3 335.5L477.3 326.5" stroke="#56b4e9" stroke-width="1.15" fill="none"/>
<path d="M495.1 348H504.1M499.6 343.5V352.5M495.1 343.5L504.1 352.5M495.1 352.5L504.1 343.5" stroke="#56b4e9" stroke-width="1.15" fill="none"/>
<path d="M521.9 358H530.9M526.4 353.5V362.5M521.9 353.5L530.9 362.5M521.9 362.5L530.9 353.5" stroke="#56b4e9" stroke-width="1.15" fill="none"/>
<path d="M548.7 364.5H557.7M553.2 360V369M548.7 360L557.7 369M548.7 369L557.7 360" stroke="#56b4e9" stroke-width="1.15" fill="none"/>
<path d="M575.5 367.5H584.5M580 363V372M575.5 363L584.5 372M575.5 372L584.5 363" stroke="#56b4e9" stroke-width="1.15" fill="none"/>
<path d="M602.3 369H611.3M606.8 364.5V373.5M602.3 364.5L611.3 373.5M602.3 373.5L611.3 364.5" stroke="#56b4e9" stroke-width="1.15" fill="none"/>
<path d="M629.1 371H638.1M633.6 366.5V375.5M629.1 366.5L638.1 375.5M629.1 375.5L638.1 366.5" stroke="#56b4e9" stroke-width="1.15" fill="none"/>
<path d="M655.9 371.4H664.9M660.4 366.9V375.9M655.9 366.9L664.9 375.9M655.9 375.9L664.9 366.9" stroke="#56b4e9" stroke-width="1.15" fill="none"/>
<path d="M124.4 29.5 L151.2 26.9 L178 30.9 L204.8 36.4 L231.6 40.5 L258.4 50 L285.2 62.1 L312 87 L338.8 122.8 L365.6 166.6 L392.4 214.2 L419.2 263.5 L446 303 L472.8 330 L499.6 346.8 L526.4 357.5 L553.2 364 L580 367 L606.8 368.8 L633.6 371 L660.4 371.4" stroke="#e69f00" stroke-width="1.15" fill="none" stroke-linejoin="round"/>
<rect x="119.9" y="25" width="9" height="9" stroke="#e69f00" stroke-width="1.15" fill="none"/>
<rect x="146.7" y="22.4" width="9" height="9" stroke="#e69f00" stroke-width="1.15" fill="none"/>
<rect x="173.5" y="26.4" width="9" height="9" stroke="#e69f00" stroke-width="1.15" fill="none"/>
<rect x="200.3" y="31.9" width="9" height="9" stroke="#e69f00" stroke-width="1.15" fill="none"/>
<rect x="227.1" y="36" width="9" height="9" stroke="#e69f00" stroke-width="1.15" fill="none"/>
<rect x="253.9" y="45.5" width="9" height="9" stroke="#e69f00" stroke-width="1.15" fill="none"/>
<rect x="280.7" y="57.6" width="9" height="9" stroke="#e69f00" stroke-width="1.15" fill="none"/>
<rect x="307.5" y="82.5" width="9" height="9" stroke="#e69f00" stroke-width="1.15" fill="none"/>
<rect x="334.3" y="118.3" width="9" height="9" stroke="#e69f00" stroke-width="1.15" fill="none"/>
<rect x="361.1" y="162.1" width="9" height="9" stroke="#e69f00" stroke-width="1.15" fill="none"/>
<rect x="387.9" y="209.7" width="9" height="9" stroke="#e69f00" stroke-width="1.15" fill="none"/>
<rect x="414.7" y="259" width="9" height="9" stroke="#e69f00" stroke-width="1.15" fill="none"/>
<rect x="441.5" y="298.5" width="9" height="9" stroke="#e69f00" stroke-width="1.15" fill="none"/>
<rect x="468.3" y="325.5" width="9" height="9" stroke="#e69f00" stroke-width="1.15" fill="none"/>
<rect x="495.1" y="342.3" width="9" height="9" stroke="#e69f00" stroke-width="1.15" fill="none"/>
<rect x="521.9" y="353" width="9" height="9" stroke="#e69f00" stroke-width="1.15" fill="none"/>
<rect x="548.7" y="359.5" width="9" height="9" stroke="#e69f00" stroke-width="1.15" fill="none"/>
<rect x="575.5" y="362.5" width="9" height="9" stroke="#e69f00" stroke-width="1.15" fill="none"/>
<rect x="602.3" y="364.3" width="9" height="9" stroke="#e69f00" stroke-width="1.15" fill="none"/>
<rect x="629.1" y="366.5" width="9" height="9" stroke="#e69f00" stroke-width="1.15" fill="none"/>
<rect x="655.9" y="366.9" width="9" height="9" stroke="#e69f00" stroke-width="1.15" fill="none"/>
<text x="547.5" y="343.1" style="font-family:Liberation Sans,sans-serif" font-size="23">N = 32</text>
<g style="font-family:Liberation Sans,sans-serif" font-size="17.5" fill="#000">
<text x="536.2" y="28.9">k<tspan font-size="14.5" dy="5.2">b</tspan><tspan dy="-5.2"> = 0.0</tspan></text>
<text x="536.2" y="51.3">k<tspan font-size="14.5" dy="5.2">b</tspan><tspan dy="-5.2"> = 0.5</tspan></text>
<text x="536.2" y="73.6">k<tspan font-size="14.5" dy="5.2">b</tspan><tspan dy="-5.2"> = 1.5</tspan></text>
<text x="536.2" y="96">k<tspan font-size="14.5" dy="5.2">b</tspan><tspan dy="-5.2"> = 2.5</tspan></text>
</g>
<path d="M607.7 24.9H639.5" stroke="#9400d3" stroke-width="1.15"/>
<path d="M618.6 24.9H628.2M623.4 20.1V29.7" stroke="#9400d3" stroke-width="1.2" fill="none"/>
<path d="M607.7 47.3H639.5" stroke="#009e73" stroke-width="1.15"/>
<path d="M618.6 42.5L628.2 52.1M618.6 52.1L628.2 42.5" stroke="#009e73" stroke-width="1.2" fill="none"/>
<path d="M607.7 69.6H639.5" stroke="#56b4e9" stroke-width="1.15"/>
<path d="M618.6 69.6H628.2M623.4 64.8V74.4M618.6 64.8L628.2 74.4M618.6 74.4L628.2 64.8" stroke="#56b4e9" stroke-width="1.2" fill="none"/>
<path d="M607.7 92H639.5" stroke="#e69f00" stroke-width="1.15"/>
<rect x="618.4" y="87" width="10" height="10" stroke="#e69f00" stroke-width="1.2" fill="none"/>
</svg>
</body></html>
